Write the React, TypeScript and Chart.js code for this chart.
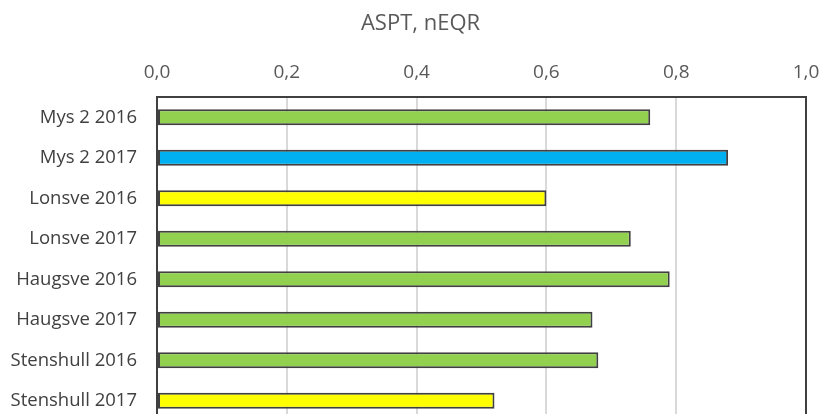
import React, { useEffect, useRef } from "react";
import { Chart, registerables } from "chart.js";

Chart.register(...registerables);

const chartTitle = "ASPT, nEQR";
const categories = [
  "Mys 2 2016",
  "Mys 2 2017",
  "Lonsve 2016",
  "Lonsve 2017",
  "Haugsve 2016",
  "Haugsve 2017",
  "Stenshull 2016",
  "Stenshull 2017",
];
const values = [0.76, 0.88, 0.6, 0.73, 0.79, 0.671, 0.68, 0.52];
const statusClass = ["good", "high", "moderate", "good", "good", "good", "good", "moderate"];
const tickValues = [0, 0.2, 0.4, 0.6, 0.8, 1.0];
const tickLabels = ["0,0", "0,2", "0,4", "0,6", "0,8", "1,0"];

const classColors: Record<string, string> = {
  high: "#00B0F0",
  good: "#92D050",
  moderate: "#FFFF00",
};

const FONT = "'Open Sans', 'Liberation Sans', sans-serif";

const boxPlugin = {
  id: "plotBox",
  afterDatasetsDraw(chart: any) {
    const { ctx, chartArea } = chart;
    ctx.save();
    ctx.strokeStyle = "#404040";
    ctx.lineWidth = 2;
    ctx.strokeRect(chartArea.left, chartArea.top, chartArea.right - chartArea.left, chartArea.bottom - chartArea.top);
    ctx.restore();
  },
};

const titlePlugin = {
  id: "sheetTitle",
  afterDraw(chart: any) {
    const { ctx } = chart;
    ctx.save();
    ctx.fillStyle = "#595959";
    ctx.font = `22px ${FONT}`;
    ctx.textAlign = "center";
    ctx.textBaseline = "middle";
    ctx.fillText(chartTitle, chart.width / 2 + 10, 24);
    ctx.restore();
  },
};

export default function App() {
  const ref = useRef<HTMLCanvasElement>(null);
  useEffect(() => {
    if (!ref.current) return;
    const chart = new Chart(ref.current, {
      type: "bar",
      data: {
        labels: categories,
        datasets: [
          {
            data: values,
            backgroundColor: statusClass.map((c) => classColors[c]),
            borderColor: "#404040",
            borderWidth: 2,
            borderSkipped: false,
            barPercentage: 0.395,
            categoryPercentage: 1,
          },
        ],
      },
      options: {
        indexAxis: "y",
        responsive: true,
        maintainAspectRatio: false,
        animation: false,
        layout: { padding: { left: 0, right: 15, top: 59, bottom: 5 } },
        plugins: {
          legend: { display: false },
          tooltip: { enabled: false },
          title: { display: false },
        },
        scales: {
          x: {
            position: "top",
            min: 0,
            max: 1,
            afterBuildTicks: (scale: any) => {
              scale.ticks = tickValues.map((v) => ({ value: v }));
            },
            afterFit: (scale: any) => {
              scale.height = 38;
              scale.paddingLeft = 0;
              scale.paddingRight = 0;
            },
            ticks: {
              padding: 13,
              color: "#595959",
              font: { family: FONT, size: 19 },
              callback: (_v: any, i: number) => tickLabels[i],
            },
            grid: { color: "#d9d9d9", lineWidth: 2, drawTicks: false },
            border: { display: false },
          },
          y: {
            afterFit: (scale: any) => {
              scale.width = 157;
              scale.paddingTop = 0;
              scale.paddingBottom = 0;
            },
            ticks: {
              padding: 20,
              color: "#404040",
              font: { family: FONT, size: 18.5 },
            },
            grid: { display: false, drawTicks: false },
            border: { display: false },
          },
        },
      },
      plugins: [boxPlugin, titlePlugin],
    } as any);
    return () => chart.destroy();
  }, []);
  return (
    <div style={{ position: "absolute", left: 0, top: 0, width: 821, height: 414, overflow: "hidden", background: "#fff" }}>
      <div style={{ position: "relative", width: 821, height: 426 }}>
        <canvas ref={ref} />
      </div>
    </div>
  );
}
